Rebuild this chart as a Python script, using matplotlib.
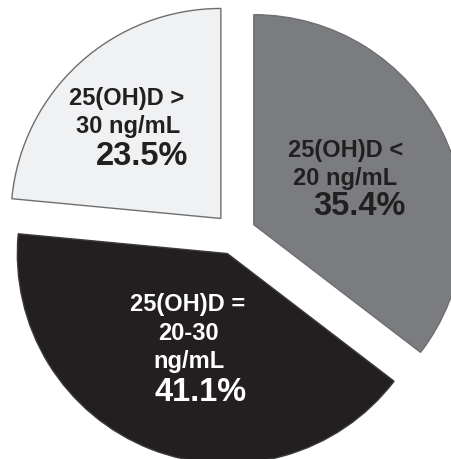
import matplotlib
matplotlib.use("Agg")
import matplotlib.pyplot as plt

# vitamin D status groups, clockwise from 12 o'clock
groups = ["25(OH)D < 20 ng/mL", "25(OH)D = 20-30 ng/mL", "25(OH)D > 30 ng/mL"]
shares = [35.4, 41.1, 23.5]
label_lines = [["25(OH)D <", "20 ng/mL"],
               ["25(OH)D =", "20-30", "ng/mL"],
               ["25(OH)D >", "30 ng/mL"]]
colors = ["#7b7c7f", "#231f20", "#f0f1f3"]
text_colors = ["#231f20", "white", "#231f20"]

W, H = 451, 460
fig = plt.figure(figsize=(W / 100, H / 100), dpi=100)
ax = fig.add_axes([0, 0, 1, 1])
plt.rcParams["font.family"] = ["Liberation Sans", "DejaVu Sans"]

wedges, _ = ax.pie(shares, colors=colors, startangle=90, counterclock=False,
                   explode=[0.1, 0.1, 0.1], radius=1.0,
                   wedgeprops=dict(edgecolor="#6d6e70", linewidth=1.0))
wedges[1].set_edgecolor("#3a3a3a")

# pie centre at (235, 235) px from top-left, radius 210 px
cx, cy, r = 235, 235, 210
ax.set_xlim(-cx / r, (W - cx) / r)
ax.set_ylim(-(H - cy) / r, cy / r)
ax.set_aspect("auto")
ax.axis("off")

# text anchor points (pixel, from top-left): label line centres and % centre
label_pos = [[(346, 150), (345, 179)],
             [(188, 305), (188, 333), (189, 362)],
             [(127, 98), (128, 126)]]
pct_pos = [(359, 207), (201, 393), (142, 157)]


def fx(p):
    return (p[0] / W, 1 - p[1] / H)


for i in range(len(shares)):
    for line, p in zip(label_lines[i], label_pos[i]):
        fig.text(*fx(p), line, ha="center", va="center", fontsize=17,
                 fontweight="bold", color=text_colors[i])
    fig.text(*fx(pct_pos[i]), f"{shares[i]:.1f}%", ha="center", va="center",
             fontsize=23.5, fontweight="bold", color=text_colors[i])

fig.savefig("out.png", dpi=100)
